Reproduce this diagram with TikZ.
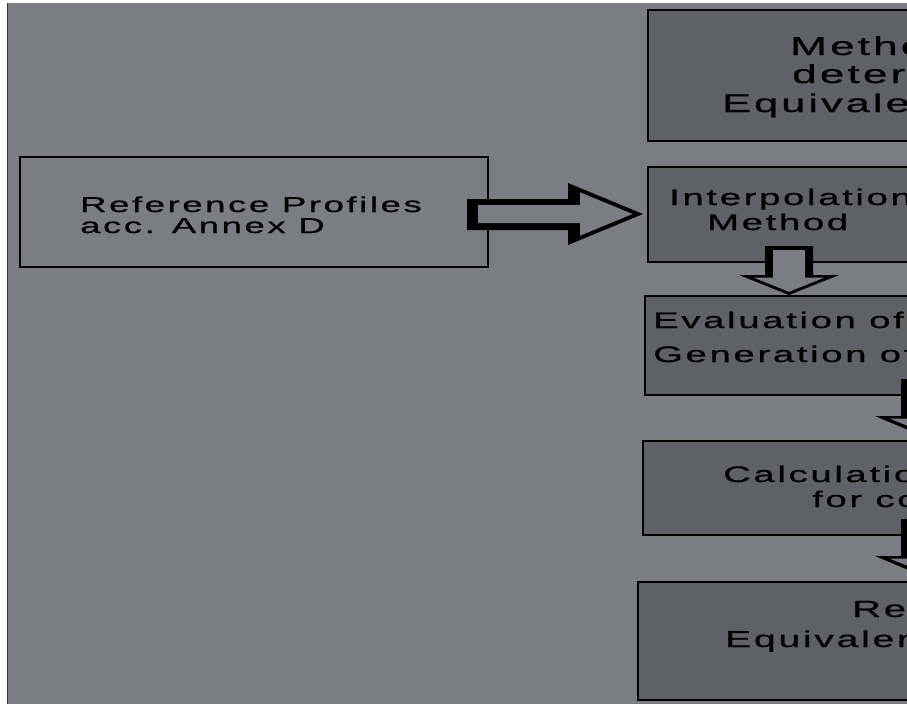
\documentclass[tikz,border=0pt]{standalone}
\usepackage{fontspec}
\usepackage{graphicx}
\newfontfamily\boxfont[LetterSpace=7,FakeBold=0.6]{Liberation Sans}
\newcommand{\widetext}[1]{\scalebox{1.7}[1]{#1}}
\usetikzlibrary{calc}
\definecolor{sheet}{HTML}{7C7D82}
\definecolor{boxfill}{HTML}{606166}

\begin{document}
\begin{tikzpicture}[x=1pt,y=-1pt,
  frame/.style={draw=black,line width=2.5pt,inner sep=0pt,outer sep=0pt,anchor=north west},
  lightbox/.style={frame,fill=sheet},
  darkbox/.style={frame,fill=boxfill},
  txt/.style={anchor=base west,inner sep=0pt,text=black,
    font=\boxfont\fontsize{#1}{#1}\selectfont},
  arrowrim/.style={fill=black},
  arrowcore/.style={fill=sheet},
]
% page and sheet
\fill[white] (0,0) rectangle (907,704);
\useasboundingbox (0,0) rectangle (907,704);
\clip (0,0) rectangle (907,704);
\fill[sheet] (7,3) rectangle (907,704);
\draw[black!55!sheet,line width=1pt] (7.5,3) -- (7.5,704);

% boxes
\node[lightbox,minimum width=468pt,minimum height=110pt] (ref) at (20,157) {};
\node[darkbox,minimum width=340pt,minimum height=131pt] (method) at (648,10) {};
\node[darkbox,minimum width=340pt,minimum height=95pt] (interp) at (648,167) {};
\node[darkbox,minimum width=340pt,minimum height=99pt] (eval) at (645,296) {};
\node[darkbox,minimum width=340pt,minimum height=94pt] (calc) at (643,441) {};
\node[darkbox,minimum width=340pt,minimum height=118pt] (result) at (638,582) {};

% box texts
\node[txt=21.5] (ref1) at (80,212) {\widetext{Reference Profiles}};
\node[txt=21.5] (ref2) at (80,233) {\widetext{acc. Annex D}};
\node[txt=26] (met1) at (790,55) {\widetext{Method}};
\node[txt=26] (met2) at (792,83) {\widetext{deter}};
\node[txt=25.5] (met3) at (722,112) {\widetext{Equivalent}};
\node[txt=22.5] (int1) at (669,205) {\widetext{Interpolation}};
\node[txt=22.5] (int2) at (707,230) {\widetext{Method}};
\node[txt=22.5] (eva1) at (653,328) {\widetext{Evaluation of}};
\node[txt=22.5] (eva2) at (653,362) {\widetext{Generation of}};
\node[txt=22.5] (cal1) at (723,482) {\widetext{Calculation}};
\node[txt=22.5] (cal2) at (812,507) {\widetext{for co}};
\node[txt=23.5] (res1) at (852,617) {\widetext{Re}};
\node[txt=23] (res2) at (725,647) {\widetext{Equivalent}};

% block arrow: reference profiles -> interpolation
\begin{scope}[shift={(ref.east)}]
  \fill[arrowrim] (-21,-13) -- (80,-13) -- (80,-29) -- (155,2) -- (80,33) -- (80,18) -- (-21,18) -- cycle;
  \fill[arrowcore] (-10,-7) -- (92,-7) -- (92,-19.7) -- (144.6,2) -- (92,23.7) -- (92,11) -- (-10,11) -- cycle;
\end{scope}

% block arrow: interpolation -> evaluation
\begin{scope}[shift={($(interp.south west)+(141,0)$)}]
  \fill[arrowrim] (-24,-16) -- (24,-16) -- (24,13) -- (50,13) -- (0,33) -- (-50,13) -- (-24,13) -- cycle;
  \fill[arrowcore] (-16,-12) -- (16,-12) -- (16,15.5) -- (35.6,15.5) -- (0,29.8) -- (-35.6,15.5) -- (-16,15.5) -- cycle;
\end{scope}

% block arrow: evaluation -> calculation
\begin{scope}[shift={($(eval.south west)+(280,0)$)}]
  \fill[arrowrim] (-24,-16) -- (24,-16) -- (24,21) -- (50,21) -- (0,42) -- (-50,21) -- (-24,21) -- cycle;
  \fill[arrowcore] (-16,-12) -- (16,-12) -- (16,23.5) -- (35.6,23.5) -- (0,37.8) -- (-35.6,23.5) -- (-16,23.5) -- cycle;
\end{scope}

% block arrow: calculation -> result
\begin{scope}[shift={($(calc.south west)+(282,0)$)}]
  \fill[arrowrim] (-24,-16) -- (24,-16) -- (24,21) -- (50,21) -- (0,42) -- (-50,21) -- (-24,21) -- cycle;
  \fill[arrowcore] (-16,-12) -- (16,-12) -- (16,23.5) -- (35.6,23.5) -- (0,37.8) -- (-35.6,23.5) -- (-16,23.5) -- cycle;
\end{scope}
\end{tikzpicture}
\end{document}
